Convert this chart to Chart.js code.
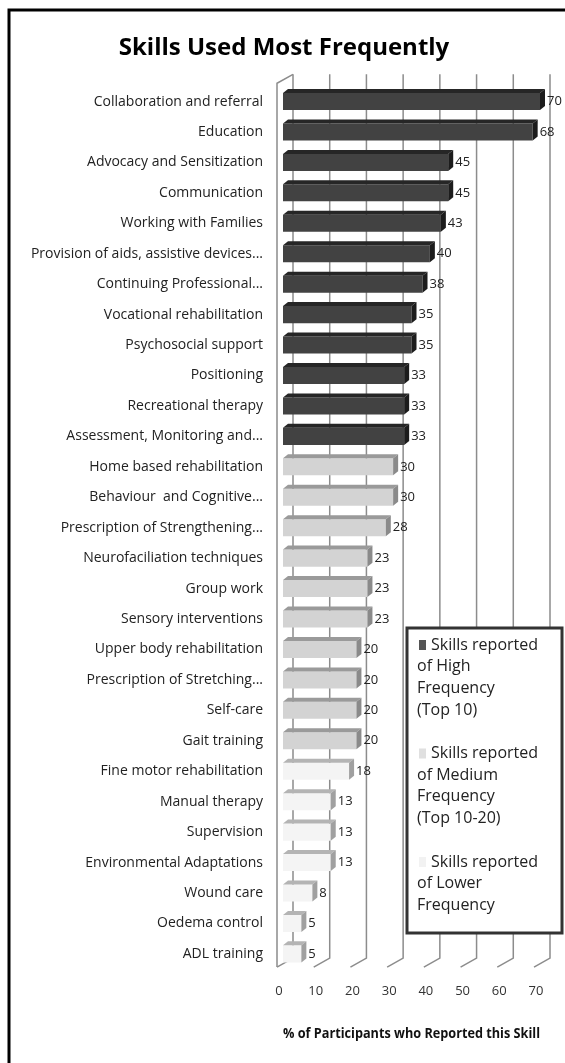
<!DOCTYPE html>
<html>
<head>
<meta charset="utf-8">
<script src="https://cdn.jsdelivr.net/npm/chart.js@4/dist/chart.umd.min.js"></script>
<style>
  html, body { margin: 0; padding: 0; background: #fff; }
  #wrap { width: 565px; height: 1063px; position: relative; }
</style>
</head>
<body>
<div id="wrap"><canvas id="plot"></canvas></div>
<script>
// categorias (de arriba hacia abajo)
let categorias = [
  'Collaboration and referral', 'Education', 'Advocacy and Sensitization', 'Communication',
  'Working with Families', 'Provision of aids, assistive devices...', 'Continuing Professional...',
  'Vocational rehabilitation', 'Psychosocial support', 'Positioning', 'Recreational therapy',
  'Assessment, Monitoring and...', 'Home based rehabilitation', 'Behaviour  and Cognitive...',
  'Prescription of Strengthening...', 'Neurofaciliation techniques', 'Group work',
  'Sensory interventions', 'Upper body rehabilitation', 'Prescription of Stretching...',
  'Self-care', 'Gait training', 'Fine motor rehabilitation', 'Manual therapy', 'Supervision',
  'Environmental Adaptations', 'Wound care', 'Oedema control', 'ADL training'
]

// % de participantes
let valores = [70, 68, 45, 45, 43, 40, 38, 35, 35, 33, 33, 33, 30, 30, 28, 23, 23, 23, 20, 20, 20, 20, 18, 13, 13, 13, 8, 5, 5]

// grupo de cada categoria: 0 alta, 1 media, 2 baja
let grupos = [0, 0, 0, 0, 0, 0, 0, 0, 0, 0, 0, 0, 1, 1, 1, 1, 1, 1, 1, 1, 1, 1, 2, 2, 2, 2, 2, 2, 2]

let nombresGrupo = [
  'Skills reported of High Frequency (Top 10)',
  'Skills reported of Medium Frequency (Top 10-20)',
  'Skills reported of Lower Frequency'
]
let lineasLeyenda = [
  ['Skills reported', 'of High', 'Frequency', '(Top 10)'],
  ['Skills reported', 'of Medium', 'Frequency', '(Top 10-20)'],
  ['Skills reported', 'of Lower', 'Frequency']
]

let ticksX = [0, 10, 20, 30, 40, 50, 60, 70]

// colores: frente, tapa, lado
let colorFrente = ['#424242', '#d3d3d3', '#f4f4f4']
let colorTapa = ['#262626', '#9a9a9a', '#b4b4b4']
let colorLado = ['#1c1c1c', '#8a8a8a', '#a0a0a0']

const FUENTE = "'Open Sans', 'DejaVu Sans', sans-serif"
const DX = 5, DY = 4

let datasets = nombresGrupo.map((nombre, g) => ({
  label: nombre,
  data: valores.map((v, i) => grupos[i] === g ? v : null),
  backgroundColor: colorFrente[g],
  borderWidth: 0,
  grouped: false,
  barPercentage: 0.56,
  categoryPercentage: 1
}))

// pared y rejilla en 3D
let rejilla3D = {
  id: 'rejilla3D',
  beforeDatasetsDraw(chart) {
    let ctx = chart.ctx
    let area = chart.chartArea
    let x = chart.scales.x
    let arribaAtras = area.top - 12
    let abajoAtras = area.bottom - 11
    let arribaFrente = area.top - 3
    let abajoFrente = area.bottom - 2
    ctx.save()
    ctx.strokeStyle = '#8c8c8c'
    ctx.lineWidth = 1.5
    ticksX.forEach(v => {
      let px = x.getPixelForValue(v)
      ctx.beginPath()
      ctx.moveTo(px + 10, arribaAtras)
      ctx.lineTo(px + 10, abajoAtras)
      ctx.lineTo(px - 6, abajoFrente)
      ctx.stroke()
    })
    // pared izquierda
    let p0 = x.getPixelForValue(0)
    ctx.beginPath()
    ctx.moveTo(p0 + 10, arribaAtras)
    ctx.lineTo(p0 - 6, arribaFrente)
    ctx.lineTo(p0 - 6, abajoFrente)
    ctx.stroke()
    ctx.restore()
  }
}

// caras de las barras y etiquetas de valor
let barras3D = {
  id: 'barras3D',
  afterDatasetsDraw(chart) {
    let ctx = chart.ctx
    ctx.save()
    chart.data.datasets.forEach((ds, g) => {
      let meta = chart.getDatasetMeta(g)
      meta.data.forEach((bar, i) => {
        if (ds.data[i] == null) return
        let left = bar.base, right = bar.x
        let top = bar.y - bar.height / 2, bottom = bar.y + bar.height / 2
        ctx.fillStyle = colorTapa[g]
        ctx.beginPath()
        ctx.moveTo(left, top)
        ctx.lineTo(left + DX, top - DY)
        ctx.lineTo(right + DX, top - DY)
        ctx.lineTo(right, top)
        ctx.closePath()
        ctx.fill()
        ctx.fillStyle = colorLado[g]
        ctx.beginPath()
        ctx.moveTo(right, top)
        ctx.lineTo(right + DX, top - DY)
        ctx.lineTo(right + DX, bottom - DY)
        ctx.lineTo(right, bottom)
        ctx.closePath()
        ctx.fill()
        ctx.fillStyle = '#222'
        ctx.font = '13px ' + FUENTE
        ctx.textAlign = 'left'
        ctx.textBaseline = 'middle'
        ctx.fillText(ds.data[i], right + DX + 2, bar.y)
      })
    })
    ctx.restore()
  }
}

// leyenda con recuadro y marco exterior
let leyendaCaja = {
  id: 'leyendaCaja',
  afterDraw(chart) {
    let ctx = chart.ctx
    ctx.save()
    // marco exterior (solo izquierda y arriba visibles)
    ctx.strokeStyle = '#000'
    ctx.lineWidth = 3
    ctx.strokeRect(9, 10, 600, 1100)

    let bx = 407, by = 628, bw = 155, bh = 305
    ctx.fillStyle = '#fff'
    ctx.fillRect(bx, by, bw, bh)
    ctx.strokeStyle = '#333'
    ctx.lineWidth = 3
    ctx.strokeRect(bx, by, bw, bh)

    ctx.font = '16px ' + FUENTE
    ctx.textBaseline = 'middle'
    ctx.textAlign = 'left'
    let y = 645
    lineasLeyenda.forEach((lineas, g) => {
      ctx.fillStyle = g === 0 ? '#555' : (g === 1 ? '#e0e0e0' : '#f2f2f2')
      ctx.fillRect(419, y - 5, 7, 10)
      lineas.forEach((t, k) => {
        ctx.fillStyle = '#222'
        ctx.fillText(t, k === 0 ? 431 : 417, y)
        y += 21.7
      })
      y += 21.7
    })
    ctx.restore()
  }
}

let config = {
  type: 'bar',
  data: { labels: categorias, datasets: datasets },
  options: {
    indexAxis: 'y',
    responsive: true,
    maintainAspectRatio: false,
    animation: false,
    layout: { padding: { left: 28, right: 25, top: 0, bottom: 21 } },
    scales: {
      x: {
        min: 0, max: 70,
        grid: { display: false, drawTicks: false },
        border: { display: false },
        afterBuildTicks: scale => { scale.ticks = ticksX.map(v => ({ value: v })) },
        ticks: { padding: 14, labelOffset: -4, color: '#333', font: { family: FUENTE, size: 13 } },
        title: {
          display: true,
          text: '% of Participants who Reported this Skill',
          color: '#111',
          font: { family: FUENTE, size: 14, weight: 'bold' },
          padding: { top: 12.5, bottom: 0 }
        }
      },
      y: {
        grid: { display: false, drawTicks: false },
        border: { display: false },
        afterFit: scale => { scale.width = 255 },
        ticks: { padding: 20, color: '#222', font: { family: FUENTE, size: 14 } }
      }
    },
    plugins: {
      legend: { display: false },
      tooltip: { enabled: false },
      title: {
        display: true,
        text: 'Skills Used Most Frequently',
        color: '#000',
        font: { family: FUENTE, size: 24, weight: 'bold' },
        padding: { top: 33.5, bottom: 24 }
      }
    }
  },
  plugins: [rejilla3D, barras3D, leyendaCaja]
}

let chart1 = new Chart(document.getElementById('plot'), config)
</script>
</body>
</html>
